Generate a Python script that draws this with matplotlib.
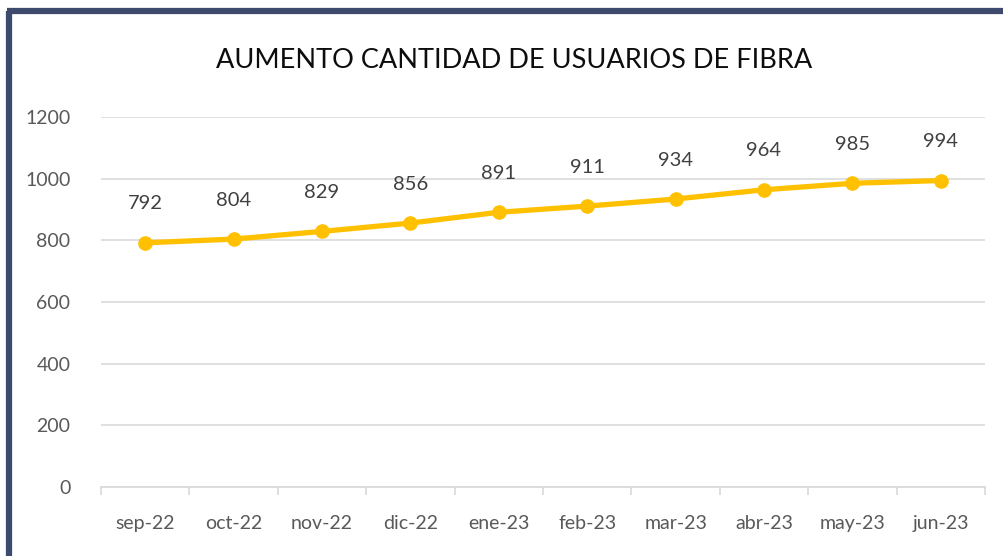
import matplotlib
matplotlib.use("Agg")
import matplotlib.pyplot as plt
from matplotlib.lines import Line2D

months = ["sep-22", "oct-22", "nov-22", "dic-22", "ene-23",
          "feb-23", "mar-23", "abr-23", "may-23", "jun-23"]
users = [792, 804, 829, 856, 891, 911, 934, 964, 985, 994]
y_ticks = [0, 200, 400, 600, 800, 1000, 1200]
title = "AUMENTO CANTIDAD DE USUARIOS DE FIBRA"

FONT = ["Lato", "DejaVu Sans"]
plt.rcParams["font.family"] = FONT

W, H = 1004, 556
fig = plt.figure(figsize=(W / 100, H / 100), dpi=100)
fig.patch.set_facecolor("white")

# dark frame along the left and top edges
frame = "#3d4a6d"
fig.add_artist(Line2D([9 / W, 9 / W], [0, (H - 11) / H], color=frame, lw=4.5,
                      transform=fig.transFigure, solid_capstyle="butt"))
fig.add_artist(Line2D([6.8 / W, 1], [(H - 11) / H, (H - 11) / H], color=frame, lw=4.5,
                      transform=fig.transFigure, solid_capstyle="butt"))

left, right = 101 / W, 985 / W
bottom, top = (H - 487) / H, (H - 117) / H
ax = fig.add_axes([left, bottom, right - left, top - bottom])

x = list(range(len(months)))
ax.plot(x, users, color="#FFC000", lw=3.8, marker="o", markersize=9.5,
        markerfacecolor="#FFC000", markeredgecolor="#FFC000", zorder=3,
        solid_capstyle="round")

for xi, v in zip(x, users):
    ax.annotate(f"{v}", (xi, v), xytext=(0, 28), textcoords="offset points",
                ha="center", va="center", fontsize=14.5, color="#404040")

ax.set_xlim(-0.5, len(months) - 0.5)
ax.set_ylim(0, 1200)
ax.set_yticks(y_ticks)
ax.set_yticklabels([str(t) for t in y_ticks])
ax.yaxis.grid(True, color="#dadada", lw=1.2)
ax.set_axisbelow(True)

ax.set_xticks(x)
ax.set_xticklabels(months)
ax.set_xticks([i - 0.5 for i in range(len(months) + 1)], minor=True)
ax.tick_params(axis="x", which="major", length=0, pad=20, labelsize=14,
               labelcolor="#595959")
ax.tick_params(axis="x", which="minor", length=6, width=1.2, color="#d9d9d9",
               direction="out")
ax.tick_params(axis="y", length=0, pad=22, labelsize=14, labelcolor="#595959")

for s in ["top", "right", "left"]:
    ax.spines[s].set_visible(False)
ax.spines["bottom"].set_color("#d9d9d9")
ax.spines["bottom"].set_linewidth(1.2)

fig.text(514 / W, (H - 60) / H, title, ha="center", va="center",
         fontsize=19.5, color="#0d0d0d")

fig.savefig("out.png", dpi=100, facecolor="white")
